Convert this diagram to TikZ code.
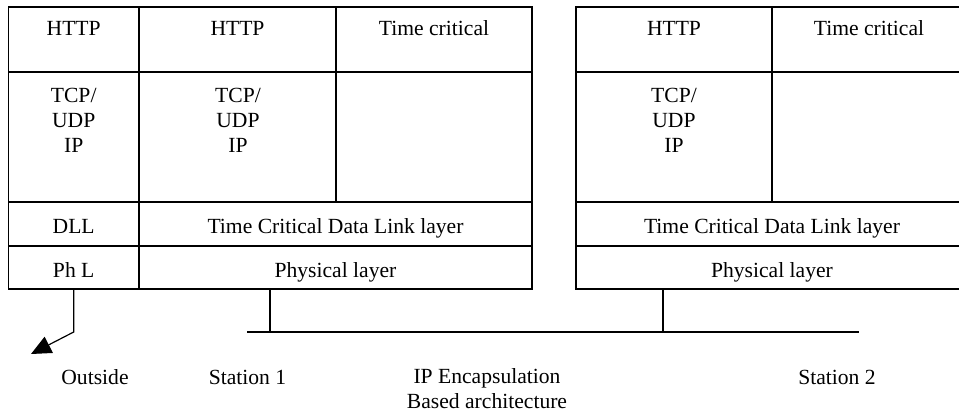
\documentclass[tikz,border=0pt]{standalone}
\usepackage{fontspec}
\setmainfont{Liberation Serif}
\usetikzlibrary{arrows.meta,calc}

\begin{document}
\begin{tikzpicture}[x=0.5pt,y=-0.5pt,line width=0.6pt]
\tikzset{txt/.style={inner sep=0pt,anchor=base,align=center,font=\fontsize{10.8}{12.5}\selectfont},
  wire/.style={line width=0.6pt},
  outarrow/.style={-{Triangle[length=10pt,width=9pt]}}}
\useasboundingbox(0,0)rectangle(959,413);

% station 1 stack
\draw(8.5,7)rectangle(532,289);
\foreach \y in {72,202,246} \draw(8.5,\y)--(532,\y);
\draw(139,7)--(139,289);
\draw(336,7)--(336,202);

% station 2 stack (cut at the right side)
\draw(959,7)--(576,7)--(576,289)--(959,289);
\foreach \y in {72,202,246} \draw(576,\y)--(959,\y);
\draw(772,7)--(772,202);

\node[txt](http1)at(73.7,35.5){HTTP};
\node[txt](http2)at(237.5,35.5){HTTP};
\node[txt](tc1)at(434,35.5){Time critical};
\node[txt](tcp1)at(73.7,152){TCP/\\UDP\\IP};
\node[txt](tcp2)at(238,152){TCP/\\UDP\\IP};
\node[txt](dll)at(73.7,233){DLL};
\node[txt](tcdll1)at(335.5,233){Time Critical Data Link layer};
\node[txt](phl)at(73.7,277){Ph L};
\node[txt](phys1)at(335.5,277){Physical layer};

\node[txt](http3)at(674,35.5){HTTP};
\node[txt](tc2)at(869,35.5){Time critical};
\node[txt](tcp3)at(674,152){TCP/\\UDP\\IP};
\node[txt](tcdll2)at(772,233){Time Critical Data Link layer};
\node[txt](phys2)at(772,277){Physical layer};

% bus and links
\coordinate(phlout)at(73.7,289);
\coordinate(bend)at(73.7,332);
\coordinate(out)at(31,354);
\coordinate(st1)at(270,289);
\coordinate(st2)at(663,289);
\coordinate(busL)at(247,332);
\coordinate(busR)at(859,332);
\draw[wire](busL)--(busR);
\draw[wire](st1)--(st1|-busL);
\draw[wire](st2)--(st2|-busL);
\draw[wire,outarrow](phlout)--(bend)--(out);

\node[txt](outside)at(95,384){Outside};
\node[txt](station1)at(247.5,384){Station 1};
\node[txt](ipenc)at(487,408){IP Encapsulation\\Based architecture};
\node[txt](station2)at(837,384){Station 2};
\end{tikzpicture}
\end{document}
